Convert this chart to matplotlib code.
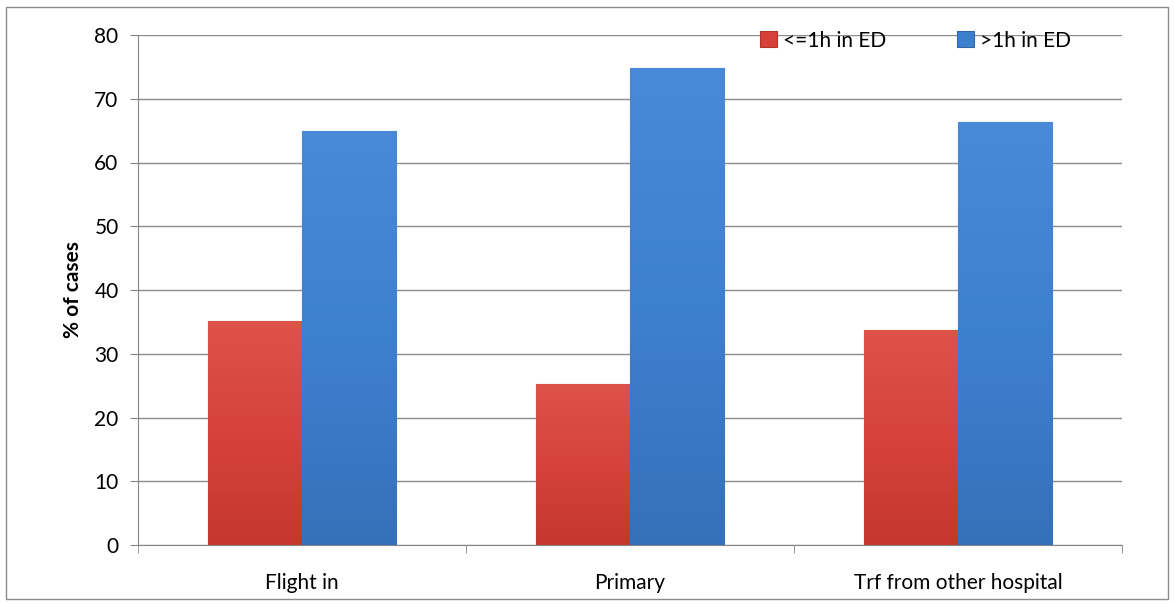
import matplotlib.pyplot as plt
import numpy as np
from matplotlib.patches import Rectangle
from matplotlib.colors import LinearSegmentedColormap

# Data
categories = ["Flight in", "Primary", "Trf from other hospital"]
short_stay = [35.1, 25.2, 33.7]
long_stay = [64.9, 74.8, 66.3]
series_names = ["<=1h in ED", ">1h in ED"]

plt.rcParams["font.family"] = ["Lato", "DejaVu Sans"]

fig = plt.figure(figsize=(11.74, 6.05), dpi=100)
ax = fig.add_axes([138 / 1174, 60 / 605, 984 / 1174, 510 / 605])

# outer chart border
fig.patches.append(Rectangle((6 / 1174, 6 / 605), 1162 / 1174, 592 / 605,
                             transform=fig.transFigure, fill=False,
                             edgecolor="#8c8c8c", linewidth=1.0))

x = np.arange(len(categories))
w = 0.287

b1 = ax.bar(x - w / 2, short_stay, w, color="#d4403a", edgecolor="#b0342f",
            linewidth=0.8, label=series_names[0], zorder=3)
b2 = ax.bar(x + w / 2, long_stay, w, color="#3d7fcf", edgecolor="#3066aa",
            linewidth=0.8, label=series_names[1], zorder=3)

# light shading, slightly lighter near the top
for bars, cols in ((b1, ["#c4372f", "#d6423c", "#de524c"]),
                   (b2, ["#3670b9", "#3e80d0", "#4889d8"])):
    cm = LinearSegmentedColormap.from_list("g", cols)
    for bar in bars:
        x0, y0 = bar.get_x(), bar.get_y()
        bw, bh = bar.get_width(), bar.get_height()
        shade = np.linspace(0, 1, 64).reshape(-1, 1)
        im = ax.imshow(shade, extent=[x0, x0 + bw, y0, y0 + bh], origin="lower",
                       aspect="auto", cmap=cm, zorder=3.5)
        im.set_clip_path(bar)

ax.set_xlim(-0.5, 2.5)
ax.set_ylim(0, 80)
ax.set_yticks(np.arange(0, 81, 10))
ax.set_xticks(x)
ax.set_xticklabels(categories, fontsize=15)
ax.set_xticks([-0.5, 0.5, 1.5, 2.5], minor=True)
ax.tick_params(axis="x", which="major", length=0, pad=20)
ax.tick_params(axis="x", which="minor", length=6, color="#868686", direction="out")
ax.tick_params(axis="y", length=6, color="#868686", labelsize=15, pad=8)
ax.set_ylabel("% of cases", fontsize=15, fontweight="bold", labelpad=8)

ax.grid(axis="y", color="#8c8c8c", linewidth=1.0, zorder=0)
ax.set_axisbelow(True)
for s in ["top", "right"]:
    ax.spines[s].set_visible(False)
for s in ["left", "bottom"]:
    ax.spines[s].set_color("#868686")

ax.legend(loc="upper left", bbox_to_anchor=(0.624, 1.025), ncol=2, frameon=False,
          fontsize=15, handlelength=0.8, handleheight=0.8, handletextpad=0.3,
          columnspacing=3.4, borderaxespad=0)

fig.savefig("out.png", dpi=100)
